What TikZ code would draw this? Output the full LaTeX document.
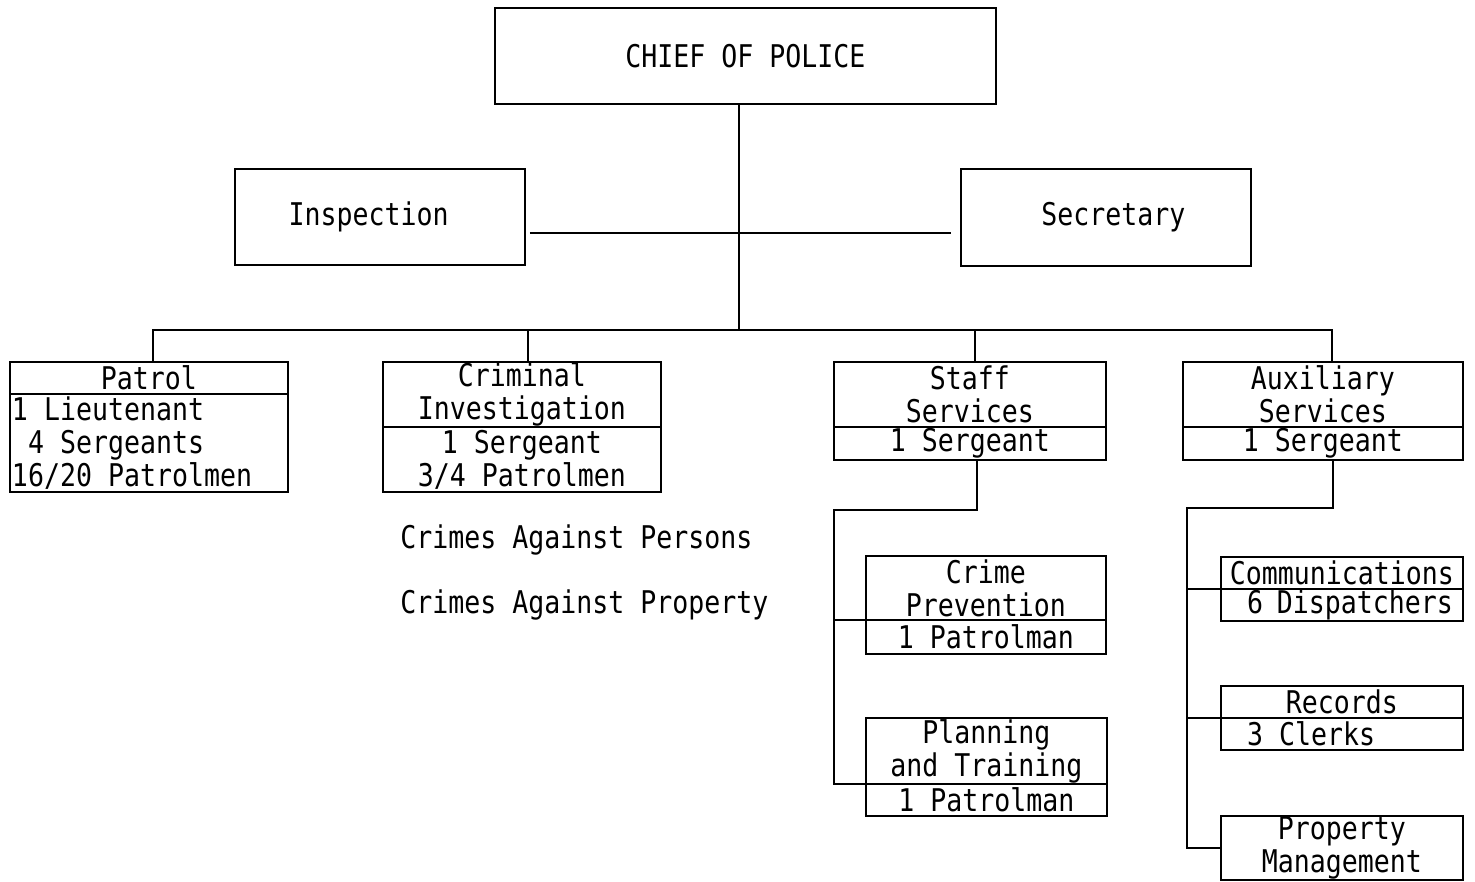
\documentclass[tikz,border=0pt]{standalone}
\usepackage{fontspec}
\newfontfamily\typewriter[FakeStretch=0.85]{DejaVu Sans Mono}
\newcommand{\chartfont}{\typewriter\fontsize{17.8}{18.7}\selectfont}
\usetikzlibrary{positioning,calc}
\tikzset{
  unit/.style={draw,line width=1pt,inner sep=0pt,outer sep=0pt,
    align=center,font=\chartfont},
  staffbox/.style={unit,anchor=north},
  link/.style={line width=1pt}
}

\begin{document}
\begin{tikzpicture}[x=0.02cm,y=-0.02cm,
  title/.style={unit,anchor=north west},
  leftlist/.style={staffbox,align=left,inner xsep=#1,
    execute at begin node={\spaceskip=0pt\xspaceskip=0pt}},
  note/.style={font=\chartfont,anchor=west,inner sep=0pt}
]
  \useasboundingbox (0,0) rectangle (1475,882);
  \node[title,minimum width=10.02cm,minimum height=1.92cm] (chief) at (495,8) {CHIEF OF POLICE};
  \node[title,minimum width=5.8cm,minimum height=1.92cm] (insp) at (235,169) {Inspection\hspace*{0.45cm}};
  \node[title,minimum width=5.8cm,minimum height=1.94cm] (sec) at (961,169) {\hspace*{0.3cm}Secretary};
  \coordinate (cross) at (739,233);
  \coordinate (hub) at (739,330);
  \node[title,minimum width=5.56cm,minimum height=0.64cm] (patrol) at (10,362) {Patrol};
  \node[leftlist=0.04cm,text width=5.48cm,minimum height=1.96cm] (patrolstaff) at (patrol.south)
    {1 Lieutenant\\\hphantom{0}4 Sergeants\\16/20 Patrolmen};
  \node[title,minimum width=5.56cm,minimum height=1.3cm] (crimi) at (383,362) {Criminal\\Investigation};
  \node[staffbox,minimum width=5.56cm,minimum height=1.3cm] (crimistaff) at (crimi.south)
    {1 Sergeant\\3/4 Patrolmen};
  \node[note] (persons) at (400,540) {Crimes Against Persons};
  \node[note] (property) at (400,605) {Crimes Against Property};
  \node[title,minimum width=5.44cm,minimum height=1.3cm] (staff) at (834,362) {Staff\\Services};
  \node[staffbox,minimum width=5.44cm,minimum height=0.66cm] (staffsgt) at (staff.south) {1 Sergeant};
  \node[title,minimum width=5.6cm,minimum height=1.3cm] (aux) at (1183,362) {Auxiliary\\Services};
  \node[staffbox,minimum width=5.6cm,minimum height=0.66cm] (auxsgt) at (aux.south) {1 Sergeant};
  \node[title,minimum width=4.8cm,minimum height=1.28cm] (crimeprev) at (866,556) {Crime\\Prevention};
  \node[staffbox,minimum width=4.8cm,minimum height=0.68cm] (crimeprevstaff) at (crimeprev.south) {1 Patrolman};
  \node[title,minimum width=4.82cm,minimum height=1.32cm] (planning) at (866,718) {Planning\\and Training};
  \node[staffbox,minimum width=4.82cm,minimum height=0.64cm] (planningstaff) at (planning.south) {1 Patrolman};
  \node[title,minimum width=4.84cm,minimum height=0.64cm] (comm) at (1221,557) {Communications};
  \node[leftlist=0.2cm,text width=4.44cm,minimum height=0.64cm] (commstaff) at (comm.south)
    {\hphantom{0}6 Dispatchers};
  \node[title,minimum width=4.84cm,minimum height=0.64cm] (records) at (1221,686) {Records};
  \node[leftlist=0.2cm,text width=4.44cm,minimum height=0.64cm] (recordsstaff) at (records.south)
    {\hphantom{0}3 Clerks};
  \node[title,minimum width=4.84cm,minimum height=1.28cm] (propmgmt) at (1221,816) {Property\\Management};
  \coordinate (staffbus) at (834,510);
  \coordinate (auxbus) at (1187,508);
  \draw[link] (chief.south -| cross) -- (hub);
  \draw[link,shorten <=0.1cm,shorten >=0.2cm] (insp.east |- cross) -- (sec.west |- cross);
  \draw[link] ([xshift=0.08cm]patrol.north) |- (hub) -| ([xshift=0.18cm]aux.north);
  \draw[link] ([xshift=0.12cm]crimi.north) |- (hub);
  \draw[link] ([xshift=0.1cm]staff.north) |- (hub);
  \draw[link] ([xshift=0.14cm]staffsgt.south) |- (staffbus) |- (planningstaff.north west);
  \draw[link] (crimeprevstaff.north west) -- (crimeprevstaff.north west -| staffbus);
  \draw[link] ([xshift=0.2cm]auxsgt.south) |- (auxbus) |- (propmgmt.west);
  \draw[link] (commstaff.north west) -- (commstaff.north west -| auxbus);
  \draw[link] (recordsstaff.north west) -- (recordsstaff.north west -| auxbus);
\end{tikzpicture}
\end{document}
